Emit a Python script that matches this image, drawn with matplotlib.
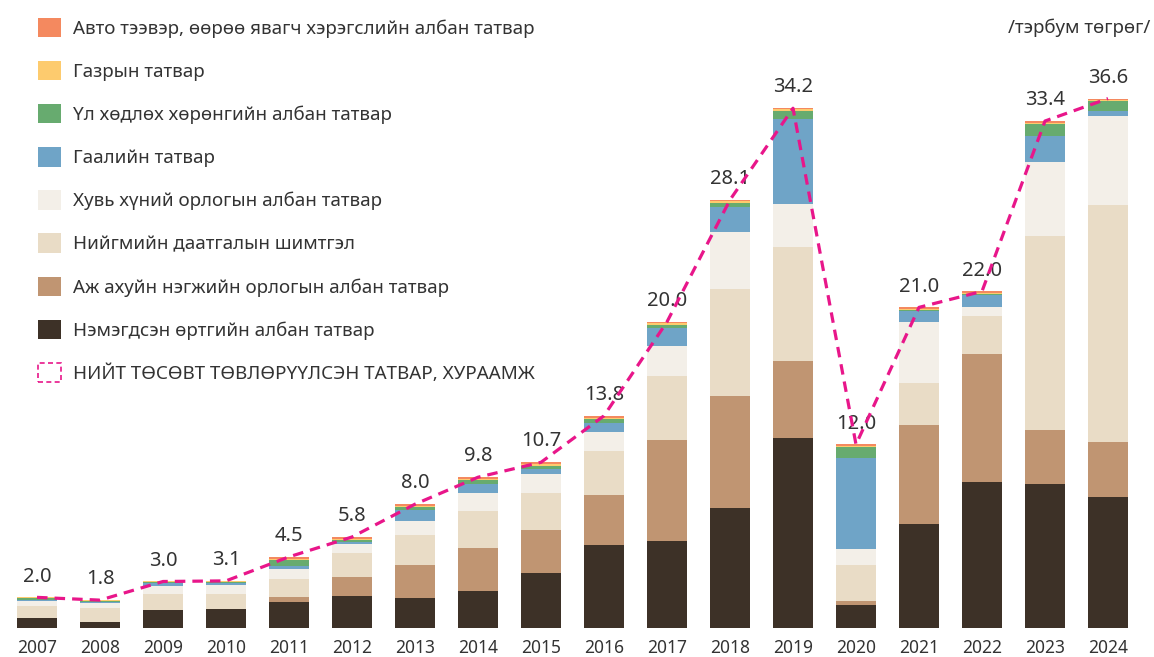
import matplotlib
matplotlib.use('Agg')
import matplotlib.pyplot as plt
from matplotlib.patches import Patch
import numpy as np

plt.rcParams['font.family'] = ['Noto Sans', 'DejaVu Sans']

################################################
#Data (тэрбум төгрөг)
################################################
years = ['2007', '2008', '2009', '2010', '2011', '2012', '2013', '2014', '2015',
         '2016', '2017', '2018', '2019', '2020', '2021', '2022', '2023', '2024']
#Printed totals above the bars
total_labels = ['2.0', '1.8', '3.0', '3.1', '4.5', '5.8', '8.0', '9.8', '10.7',
                '13.8', '20.0', '28.1', '34.2', '12.0', '21.0', '22.0', '33.4', '36.6']

vat = [0.65, 0.39, 1.17, 1.23, 1.69, 2.08, 1.95, 2.40, 3.57,
       5.39, 5.64, 7.77, 12.32, 1.49, 6.73, 9.47, 9.32, 8.49]
cit = [0.00, 0.00, 0.00, 0.00, 0.32, 1.25, 2.14, 2.79, 2.79,
       3.25, 6.55, 7.30, 5.00, 0.25, 6.44, 8.31, 3.51, 3.58]
social = [0.80, 0.91, 1.04, 0.97, 1.17, 1.51, 1.95, 2.40, 2.40,
          2.86, 4.16, 6.95, 7.42, 2.35, 2.75, 2.47, 12.62, 15.39]
pit = [0.32, 0.31, 0.54, 0.56, 0.65, 0.60, 0.91, 1.17, 1.23,
       1.23, 1.95, 3.69, 2.79, 1.04, 3.95, 0.57, 4.80, 5.81]
customs = [0.08, 0.08, 0.15, 0.13, 0.21, 0.15, 0.73, 0.60, 0.32,
           0.58, 1.16, 1.64, 5.50, 5.91, 0.74, 0.81, 1.71, 0.31]
property_tax = [0.08, 0.06, 0.06, 0.11, 0.39, 0.13, 0.19, 0.26, 0.19,
                0.26, 0.22, 0.25, 0.54, 0.72, 0.05, 0.06, 0.77, 0.65]
land = [0.06, 0.06, 0.06, 0.06, 0.06, 0.06, 0.06, 0.06, 0.13,
        0.08, 0.10, 0.10, 0.10, 0.08, 0.07, 0.07, 0.08, 0.07]
vehicle = [0.00, 0.00, 0.00, 0.00, 0.13, 0.13, 0.11, 0.11, 0.13,
           0.13, 0.10, 0.10, 0.08, 0.08, 0.09, 0.10, 0.11, 0.08]

#bottom to top
series = [
    ('Нэмэгдсэн өртгийн албан татвар', vat, '#3d3127'),
    ('Аж ахуйн нэгжийн орлогын албан татвар', cit, '#c09572'),
    ('Нийгмийн даатгалын шимтгэл', social, '#e9dcc6'),
    ('Хувь хүний орлогын албан татвар', pit, '#f3efe8'),
    ('Гаалийн татвар', customs, '#6fa4c7'),
    ('Үл хөдлөх хөрөнгийн албан татвар', property_tax, '#67ab6f'),
    ('Газрын татвар', land, '#fdcb6e'),
    ('Авто тээвэр, өөрөө явагч хэрэгслийн албан татвар', vehicle, '#f4895f'),
]
line_label = 'НИЙТ ТӨСӨВТ ТӨВЛӨРҮҮЛСЭН ТАТВАР, ХУРААМЖ'
pink = '#e8168a'
text_col = '#333333'

fig = plt.figure(figsize=(11.54, 6.57), dpi=100)
#baseline 29px from bottom, bars start 37px from left, 63px apart
ax = fig.add_axes([0, 29 / 657, 1, 628 / 657])

x = np.arange(len(years))
bottom = np.zeros(len(years))
handles = []
for name, vals, col in series:
    b = ax.bar(x, vals, width=0.65, bottom=bottom, color=col, label=name, zorder=2)
    handles.append(b)
    bottom = bottom + np.array(vals)

#total line through stack tops
ax.plot(x, bottom, color=pink, lw=2.3, dashes=(3.3, 2.2), zorder=5)

for xi, top, lab in zip(x, bottom, total_labels):
    ax.annotate(lab, (xi, top), xytext=(0, 15), textcoords='offset points',
                ha='center', va='center', fontsize=14.5, color=text_col, zorder=4)

ax.set_xlim(-37 / 63, (1154 - 37) / 63)
ax.set_ylim(0, 628 / 15.4)
ax.set_xticks(x)
ax.set_xticklabels(years, fontsize=12.5, color=text_col)
ax.tick_params(axis='x', length=0, pad=8)
ax.set_yticks([])
for s in ax.spines.values():
    s.set_visible(False)
ax.patch.set_alpha(0)

#legend: top item first
leg_handles = handles[::-1] + [Patch(facecolor='white', edgecolor=pink,
                                     linestyle=(0, (3, 2)), linewidth=1.2)]
leg_labels = [s[0] for s in series[::-1]] + [line_label]
fig.legend(leg_handles, leg_labels, loc='upper left',
           bbox_to_anchor=(38 / 1154, 1 - 17.5 / 657), frameon=False,
           fontsize=13.5, handlelength=1.23, handleheight=1.23,
           handletextpad=0.64, labelspacing=1.23, borderpad=0,
           borderaxespad=0, labelcolor=text_col)

fig.text(1150 / 1154, 1 - 28 / 657, '/тэрбум төгрөг/', ha='right', va='center',
         fontsize=13.5, color=text_col)

fig.savefig('out.png', dpi=100)
